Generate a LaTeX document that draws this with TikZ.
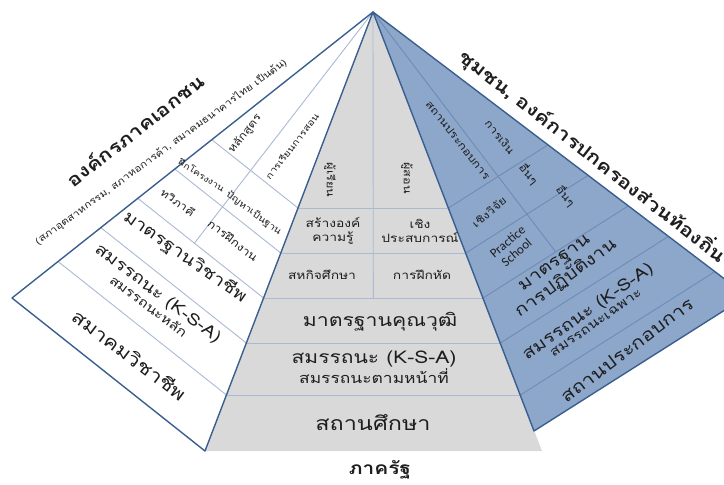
\documentclass[tikz,border=0pt]{standalone}
\usepackage{fontspec}
\newfontfamily\thai[Script=Thai,FakeStretch=1.2]{Loma}
\newfontfamily\latsans{Carlito}
\usetikzlibrary{calc}
\definecolor{edgeblue}{HTML}{3A5F8E}
\definecolor{faceblue}{HTML}{8DA7CB}
\definecolor{facegray}{HTML}{D9D9D9}
\definecolor{thinline}{HTML}{A9BAD2}
\definecolor{blueline}{HTML}{6D8BB5}
\definecolor{txt}{HTML}{1E1E1E}
\newcommand\tfs[1]{\thai\fontsize{#1}{#1}\selectfont}
\newcommand\tbf[1]{\thai\bfseries\fontsize{#1}{#1}\selectfont}
\begin{document}
\begin{tikzpicture}[x=1pt,y=-1pt,
  every node/.style={inner sep=0pt, align=center, text=txt},
  edge/.style={draw=edgeblue, line width=1.4pt, line join=round},
  inl/.style={draw=thinline, line width=0.9pt},
  rinl/.style={draw=blueline, line width=0.9pt},
  fs/.style={font=\tfs{#1}},
  ttl/.style={font=\tbf{18.2}},
]
\useasboundingbox (0,0) rectangle (724,485);
\clip (0,0) rectangle (724,485);
\coordinate (A) at (373,12);
\coordinate (L) at (12,298);
\coordinate (B) at (205,451);
\coordinate (CR) at (542,451);
\coordinate (Bp) at (534,431);
\coordinate (R) at (747,296);
\foreach \i/\t/\tt in {1/0.4465/0.4678, 2/0.5490/0.5752, 3/0.6515/0.6826, 4/0.7540/0.7900, 5/0.8724/0.9141}{
  \coordinate (cl\i) at ($(A)!\t!(B)$);
  \coordinate (cr\i) at ($(A)!\t!(CR)$);
  \coordinate (ll\i) at ($(A)!\t!(L)$);
  \coordinate (rr\i) at ($(A)!\tt!(R)$);
}
\coordinate (cdiv) at ($(cl3)!0.5!(cr3)$);
\coordinate (ldiv) at ($(ll3)!0.45!(cl3)$);
\coordinate (rdiv) at ($(cr3)!0.5!(rr3)$);
% faces
\fill[facegray] (A) -- (B) -- (CR) -- cycle;
\fill[faceblue] (A) -- (Bp) -- (R) -- cycle;
% inner lines
\foreach \i in {1,...,5}{
  \draw[inl] (cl\i) -- (cr\i);
  \draw[inl] (ll\i) -- (cl\i);
  \draw[rinl] (cr\i) -- (rr\i);
}
\draw[inl] (A) -- (cdiv);
\draw[inl] (A) -- (ldiv);
\draw[rinl] (A) -- (rdiv);
% edges
\draw[edge] (A) -- (L) -- (B) -- cycle;
\draw[edge] (A) -- (Bp) -- (R) -- cycle;
% central texts
\node[fs=10.5, rotate=-90] (c1) at (330,180) {ผู้เรียน};
\node[fs=10.5, rotate=-90] (c2) at (407,178) {ผู้สอน};
\node[fs=11.5] (c3) at (333,231) {สร้างองค์\\[2pt]ความรู้};
\node[fs=11.5] (c4) at (420,231) {เชิง\\[2pt]ประสบการณ์};
\node[fs=11.5] (c5) at (322,275) {สหกิจศึกษา};
\node[fs=11.5] (c6) at (422,275) {การฝึกหัด};
\node[fs=17.7] (c7) at (380,322) {มาตรฐานคุณวุฒิ};
\node (c8) at (374,367) {\tfs{17.5}สมรรถนะ (K-S-A)\\[1pt]\tfs{14.5}สมรรถนะตามหน้าที่};
\node[fs=19.5] (c9) at (373,423) {สถานศึกษา};
\node[font=\tbf{17.4}] (c10) at (380,470) {ภาครัฐ};
% left texts
\node[ttl, rotate=38] (l0) at (135,130) {องค์กรภาคเอกชน};
\node[fs=9.5, rotate=36] (l00) at (161,152) {(สภาอุตสาหกรรม, สภาหอการค้า, สมาคมธนาคารไทย เป็นต้น)};
\node[fs=10.5, rotate=52] (l1) at (245,134) {หลักสูตร};
\node[fs=9, rotate=52] (l2) at (292,146) {การเรียนการสอน};
\node[fs=8.5, rotate=-33] (l3) at (202,175) {ฝึกโครงงาน};
\node[fs=9, rotate=-37] (l4) at (254,213) {ปัญหาเป็นฐาน};
\node[fs=10.5, rotate=-36] (l5) at (178,202) {ทวิภาคี};
\node[fs=10.8, rotate=-38] (l6) at (233,240) {การฝึกงาน};
\node[fs=16.6, rotate=-35] (l7) at (185,257) {มาตรฐานวิชาชีพ};
\node[rotate=-37] (l8) at (154,299) {\tfs{16.3}สมรรถนะ (K-S-A)\\[1pt]\tfs{12.8}สมรรถนะหลัก};
\node[fs=18.2, rotate=-37] (l9) at (130,355) {สมาคมวิชาชีพ};
% right texts
\node[ttl, rotate=-38] (r0) at (593,156) {ชุมชน, องค์การปกครองส่วนท้องถิ่น};
\node[fs=10.5, rotate=-52] (r1) at (458,140) {สถานประกอบการ};
\node[fs=10.5, rotate=-52] (r2) at (500,137) {การเงิน};
\node[fs=10.5, rotate=-52] (r3) at (529,174) {อื่นๆ};
\node[fs=10.5, rotate=40] (r4) at (489,212) {เชิงวิจัย};
\node[fs=10.5, rotate=-52] (r5) at (566,196) {อื่นๆ};
\node[font=\latsans\fontsize{13}{14}\selectfont, rotate=40] (r6) at (512,247) {Practice\\School};
\node[rotate=36] (r7) at (561,272) {\tfs{16.7}มาตรฐาน\\[1pt]\tfs{16.7}การปฏิบัติงาน};
\node[rotate=35] (r8) at (591,316) {\tfs{16.5}สมรรถนะ (K-S-A)\\[1pt]\tfs{13}สมรรถนะเฉพาะ};
\node[fs=17.4, rotate=37] (r9) at (627,350) {สถานประกอบการ};
\end{tikzpicture}
\end{document}
